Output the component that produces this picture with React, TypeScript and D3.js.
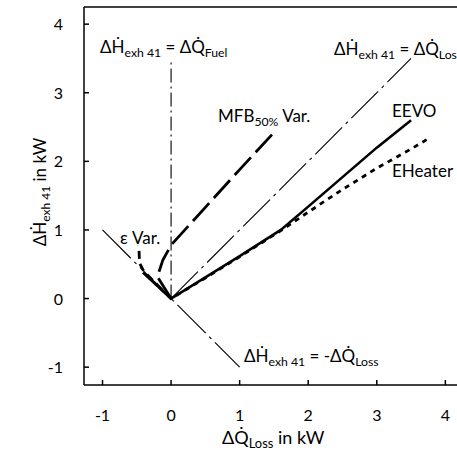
import React from 'react';
import { scaleLinear, line } from 'd3';

// reference lines
const refLoss: [number, number][] = [[0, 0], [3.5, 3.5]];
const refFuel: [number, number][] = [[0, 0], [0, 3.5]];
const refNegLoss: [number, number][] = [[-1, 1], [1, -1]];

// measured series
const eevo: [number, number][] = [[-0.41, 0.38], [0, 0], [0.5, 0.31], [1, 0.62], [1.6, 1.0], [2, 1.34], [2.5, 1.77], [3, 2.2], [3.5, 2.6]];
const eheater: [number, number][] = [[-0.36, 0.34], [0, 0], [0.5, 0.3], [1, 0.61], [1.6, 0.99], [2, 1.26], [2.5, 1.59], [3, 1.9], [3.5, 2.18], [3.75, 2.33]];
const mfb: [number, number][] = [[0, 0], [-0.2, 0.32], [-0.12, 0.56], [0, 0.78], [0.5, 1.33], [1, 1.88], [1.5, 2.42]];
const epsVar: [number, number][] = [[0, 0], [-0.4, 0.4], [-0.46, 0.52], [-0.47, 0.77]];

const xTicks = [-1, 0, 1, 2, 3, 4];
const yTicks = [-1, 0, 1, 2, 3, 4];

const font = 'Lato, "Open Sans", sans-serif';

export default function App() {
  const left = 84, right = 457, top = 7, bottom = 385;
  const x = scaleLinear().domain([-1.27, 4.17]).range([left, right]);
  const y = scaleLinear().domain([-1.26, 4.25]).range([bottom, top]);
  const lineF = line<[number, number]>().x(d => x(d[0])).y(d => y(d[1]));

  // label with subscript parts
  const Lbl = ({ px, py, parts, size = 17, anchor = 'start' }: { px: number; py: number; parts: [string, boolean][]; size?: number; anchor?: string }) => (
    <text x={px} y={py} fontSize={size} fontFamily={font} fill="#000" textAnchor={anchor}>
      {parts.map((p, i) => {
        const prevSub = i > 0 && parts[i - 1][1];
        const dy = p[1] && !prevSub ? 4 : !p[1] && prevSub ? -4 : 0;
        return (
          <tspan key={i} dy={dy} fontSize={p[1] ? size * 0.72 : size}>{p[0]}</tspan>
        );
      })}
    </text>
  );

  return (
    <svg width={457} height={459} style={{ position: 'absolute', left: 0, top: 0, background: '#fff' }}>
      {/* axes */}
      <line x1={left} x2={right} y1={top} y2={top} stroke="#000" strokeWidth={1.5} />
      <line x1={left} x2={left} y1={top} y2={bottom} stroke="#000" strokeWidth={1.5} />
      <line x1={left} x2={right} y1={bottom} y2={bottom} stroke="#000" strokeWidth={1.5} />
      {xTicks.map(t => (
        <g key={t}>
          <line x1={x(t)} x2={x(t)} y1={bottom} y2={bottom - 5} stroke="#000" strokeWidth={1.5} />
          <text x={x(t)} y={421} textAnchor="middle" fontSize={16} fontFamily={font}>{t}</text>
        </g>
      ))}
      {yTicks.map(t => (
        <g key={t}>
          <line x1={left} x2={left + 5} y1={y(t)} y2={y(t)} stroke="#000" strokeWidth={1.5} />
          <text x={63} y={y(t) + 6} textAnchor="end" fontSize={16} fontFamily={font}>{t}</text>
        </g>
      ))}

      {/* reference lines */}
      <path d={lineF(refLoss) || ''} fill="none" stroke="#000" strokeWidth={1.1} strokeDasharray="38 5 3 5" />
      <path d={lineF(refFuel) || ''} fill="none" stroke="#000" strokeWidth={1.1} strokeDasharray="14 4 2 4" />
      <path d={lineF(refNegLoss) || ''} fill="none" stroke="#000" strokeWidth={1.1} strokeDasharray="40 5 3 5" />

      {/* series */}
      <path d={lineF(eevo) || ''} fill="none" stroke="#000" strokeWidth={2.6} />
      <path d={lineF(eheater) || ''} fill="none" stroke="#000" strokeWidth={2.8} strokeDasharray="5 5" />
      <path d={lineF(mfb) || ''} fill="none" stroke="#000" strokeWidth={2.8} strokeDasharray="24 7" />
      <path d={lineF(epsVar) || ''} fill="none" stroke="#000" strokeWidth={2.8} strokeDasharray="8 5" />

      {/* annotations */}
      <Lbl px={100} py={53} parts={[['ΔḢ', false], ['exh 41', true], [' = ΔQ̇', false], ['Fuel', true]]} />
      <Lbl px={334} py={55} parts={[['ΔḢ', false], ['exh 41', true], [' = ΔQ̇', false], ['Loss', true]]} />
      <Lbl px={244} py={362} parts={[['ΔḢ', false], ['exh 41', true], [' = -ΔQ̇', false], ['Loss', true]]} />
      <Lbl px={218} py={122} parts={[['MFB', false], ['50%', true], [' Var.', false]]} />
      <text x={392} y={117} fontSize={17} fontFamily={font}>EEVO</text>
      <text x={392} y={177} fontSize={17} fontFamily={font}>EHeater</text>
      <text x={120} y={244} fontSize={17} fontFamily={font}>ε Var.</text>

      {/* axis titles */}
      <Lbl px={222} py={444} size={18} parts={[['ΔQ̇', false], ['Loss', true], [' in kW', false]]} />
      <g transform="translate(46,192) rotate(-90)">
        <text textAnchor="middle" fontSize={17} fontFamily={font}>
          <tspan>ΔḢ</tspan>
          <tspan dy={4} fontSize={12}>exh 41</tspan>
          <tspan dy={-4}> in kW</tspan>
        </text>
      </g>
    </svg>
  );
}
